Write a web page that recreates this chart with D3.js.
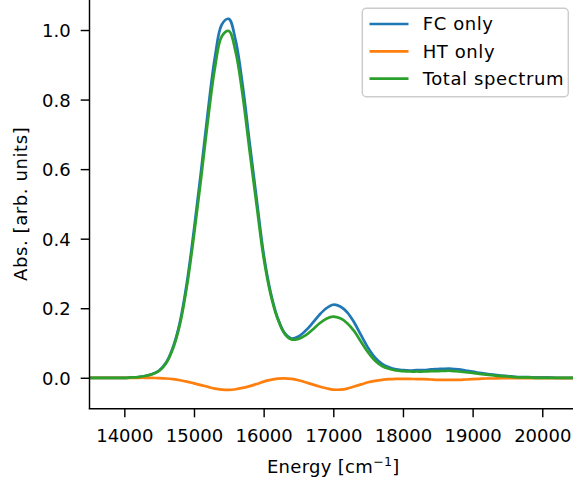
<!DOCTYPE html>
<html>
<head>
<meta charset="utf-8">
<script src="https://cdn.jsdelivr.net/npm/d3@7"></script>
<style>
  body { margin: 0; background: #fff; }
  text { font-family: "DejaVu Sans", sans-serif; fill: #000; }
</style>
</head>
<body>
<div class="chart-container"></div>
<script>

// energy grid, cm^-1 (step 100)
var energy = d3.range(13500, 20501, 100);

var fcOnly = [
  0, 0, 0, 0, 0,   0, 0.001, 0.002, 0.005, 0.011,
  0.021, 0.044, 0.089, 0.162, 0.276,   0.426, 0.591, 0.766, 0.921, 1.016,
  1.032, 0.968, 0.839, 0.674, 0.513,   0.356, 0.246, 0.173, 0.129, 0.113,
  0.119, 0.135, 0.157, 0.181, 0.200,   0.210, 0.205, 0.188, 0.159, 0.122,
  0.086, 0.058, 0.040, 0.030, 0.024,   0.022, 0.021, 0.022, 0.022, 0.024,
  0.025, 0.026, 0.026, 0.024, 0.021,   0.018, 0.014, 0.011, 0.009, 0.006,
  0.005, 0.003, 0.002, 0.002, 0.001,   0.001, 0.001, 0, 0, 0,
  0
];

var htOnly = [
  0, 0, 0, 0, 0,   0, 0, 0, 0, -0.0005,
  -0.001, -0.002, -0.004, -0.007, -0.011,   -0.016, -0.021, -0.026, -0.031, -0.034,
  -0.035, -0.033, -0.029, -0.024, -0.018,   -0.011, -0.006, -0.0025, -0.0015, -0.003,
  -0.007, -0.013, -0.019, -0.025, -0.030,   -0.034, -0.034, -0.031, -0.025, -0.019,
  -0.013, -0.009, -0.006, -0.004, -0.003,   -0.003, -0.003, -0.004, -0.004, -0.005,
  -0.006, -0.006, -0.006, -0.006, -0.005,   -0.004, -0.003, -0.002, -0.002, -0.001,
  -0.001, -0.001, -0.001, -0.001, -0.001,   -0.001, -0.001, -0.001, -0.001, -0.001,
  -0.001
];

var totalSpec = [
  0, 0, 0, 0, 0,   0, 0.001, 0.002, 0.005, 0.010,
  0.020, 0.042, 0.085, 0.155, 0.265,   0.410, 0.570, 0.740, 0.890, 0.982,
  0.997, 0.935, 0.810, 0.650, 0.495,   0.345, 0.240, 0.170, 0.127, 0.110,
  0.112, 0.122, 0.138, 0.156, 0.170,   0.176, 0.171, 0.157, 0.134, 0.103,
  0.073, 0.049, 0.034, 0.026, 0.021,   0.019, 0.018, 0.018, 0.018, 0.019,
  0.019, 0.020, 0.020, 0.018, 0.016,   0.014, 0.011, 0.009, 0.007, 0.005,
  0.004, 0.002, 0.001, 0.001, 0,   0, 0, 0, 0, 0,
  0
];

var seriesNames = ["FC only", "HT only", "Total spectrum"];
var seriesColors = ["#1f77b4", "#ff7f0e", "#2ca02c"];
var xTicks = [14000, 15000, 16000, 17000, 18000, 19000, 20000];
var yTicks = [0.0, 0.2, 0.4, 0.6, 0.8, 1.0];

var W = 573, H = 484;
var plotL = 89.5, plotR = 577.1, plotT = -1, plotB = 408.7;

var svg = d3.select(".chart-container")
    .append("svg")
    .attr("width", W)
    .attr("height", H);

var x = d3.scaleLinear()
    .domain([13500, 20500])
    .range([plotL, plotR]);

var y = d3.scaleLinear()
    .domain([-0.0889, 1.0892])
    .range([plotB, plotT]);

svg.append("clipPath").attr("id", "plot-clip")
    .append("rect")
    .attr("x", plotL).attr("y", plotT)
    .attr("width", plotR - plotL).attr("height", plotB - plotT);

// lines
var series = [fcOnly, htOnly, totalSpec];
var line = d3.line()
    .x(function(d, i) { return x(energy[i]); })
    .y(function(d) { return y(d); })
    .curve(d3.curveCatmullRom);

svg.append("g")
    .attr("clip-path", "url(#plot-clip)")
    .selectAll("path")
    .data(series)
    .enter().append("path")
    .attr("d", line)
    .attr("fill", "none")
    .attr("stroke", function(d, i) { return seriesColors[i]; })
    .attr("stroke-width", 2.7)
    .attr("stroke-linejoin", "round")
    .attr("stroke-linecap", "square");

// axes
var xAxis = svg.append("g")
    .attr("transform", "translate(0," + plotB + ")")
    .call(d3.axisBottom(x).tickValues(xTicks).tickSize(8.6).tickPadding(4).tickFormat(d3.format("d")));
var yAxis = svg.append("g")
    .attr("transform", "translate(" + plotL + ",0)")
    .call(d3.axisLeft(y).tickValues(yTicks).tickSize(8.8).tickPadding(10).tickFormat(d3.format(".1f")));

[xAxis, yAxis].forEach(function(a) {
  a.select(".domain").remove();
  a.selectAll(".tick line").attr("stroke", "#000").attr("stroke-width", 1.44);
  a.selectAll(".tick text").attr("font-size", 18).attr("font-family", "DejaVu Sans").attr("fill", "#000");
});
xAxis.selectAll(".tick text").attr("dy", null).attr("y", 33.6);
yAxis.selectAll(".tick text").attr("dy", "0.37em");

// spines (right one falls outside the picture)
svg.append("line").attr("x1", plotL).attr("x2", plotL).attr("y1", plotT).attr("y2", plotB)
    .attr("stroke", "#000").attr("stroke-width", 1.44);
svg.append("line").attr("x1", plotL).attr("x2", plotR).attr("y1", plotB).attr("y2", plotB)
    .attr("stroke", "#000").attr("stroke-width", 1.44).attr("stroke-linecap", "square");
svg.append("line").attr("x1", plotL).attr("x2", plotR).attr("y1", plotT).attr("y2", plotT)
    .attr("stroke", "#000").attr("stroke-width", 1.44);

// axis labels
var xl = svg.append("text")
    .attr("x", (plotL + plotR) / 2)
    .attr("y", 473)
    .attr("text-anchor", "middle")
    .attr("font-size", 18)
    .attr("letter-spacing", 0.3);
xl.append("tspan").text("Energy [cm");
xl.append("tspan").attr("font-size", 12.6).attr("dy", -7).text("\u22121");
xl.append("tspan").attr("dy", 7).text("]");

svg.append("text")
    .attr("transform", "translate(27," + ((plotT + plotB) / 2) + ")rotate(-90)")
    .attr("text-anchor", "middle")
    .attr("font-size", 18)
    .attr("letter-spacing", 0.6)
    .text("Abs. [arb. units]");

// legend
var lg = svg.append("g");
lg.append("rect")
    .attr("x", 362.3).attr("y", 8.3)
    .attr("width", 206).attr("height", 88.4)
    .attr("rx", 4).attr("ry", 4)
    .attr("fill", "#fff").attr("fill-opacity", 0.8)
    .attr("stroke", "#cccccc").attr("stroke-width", 1.44);

var items = lg.selectAll("g.item")
    .data(seriesNames)
    .enter().append("g")
    .attr("class", "item")
    .attr("transform", function(d, i) { return "translate(0," + (24 + i * 27.3) + ")"; });
items.append("line")
    .attr("x1", 369.5).attr("x2", 408.5)
    .attr("stroke", function(d, i) { return seriesColors[i]; })
    .attr("stroke-width", 2.7);
items.append("text")
    .attr("x", 422.7)
    .attr("dy", "0.36em")
    .attr("font-size", 18)
    .attr("letter-spacing", 0.6)
    .text(function(d) { return d; });

</script>
</body>
</html>
